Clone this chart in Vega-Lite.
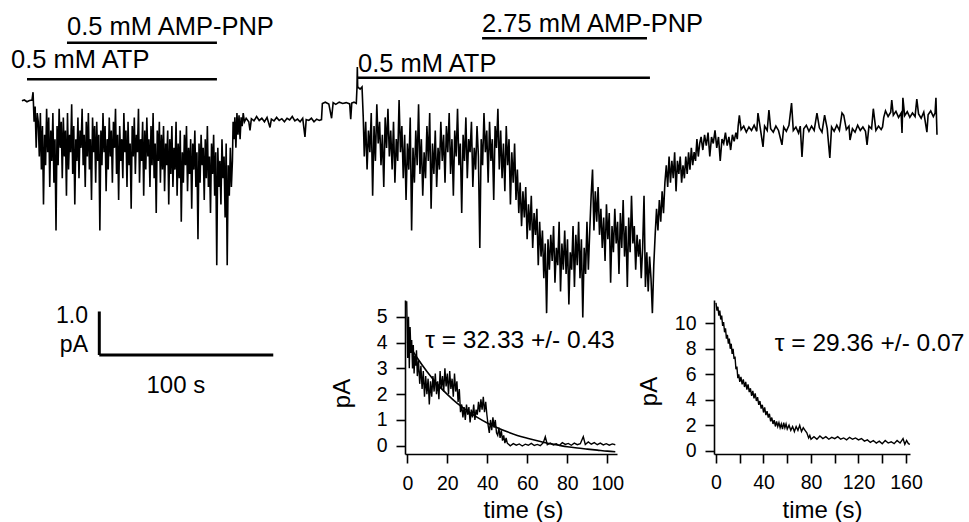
{
"$schema":"https://vega.github.io/schema/vega-lite/v6.json",
"padding":0,
"background":"white",
"bounds":"flush",
"spacing":0,
"config":{"view":{"stroke":null},"font":"Liberation Sans",
"axis":{"domainColor":"black","domainWidth":1.6,"tickColor":"black","tickWidth":1.6,"tickSize":9,"labelFontSize":19.5,"labelColor":"black","titleFontSize":24,"titleFontWeight":"normal","titleColor":"black","grid":false,"labelFlush":false,"labelOverlap":false},
"axisX":{"labelPadding":11,"titleBaseline":"alphabetic"},
"axisY":{"labelPadding":9}},
"datasets":{
"trace":[
{"t":0.6,"v":-0.02},{"t":2,"v":0},{"t":3.5,"v":-0.04},{"t":5,"v":-0.01},{"t":6.4,"v":0},{"t":7,"v":0.18},{"t":7.6,"v":-0.5},{"t":8.2,"v":-0.15},{"t":8.8,"v":-1.1},{"t":9.4,"v":-0.3},
{"t":10,"v":-0.5},{"t":10.6,"v":-1.3},{"t":11.2,"v":-0.3},{"t":11.8,"v":-1.6},{"t":12.4,"v":-0.6},{"t":13,"v":-2.4},{"t":13.6,"v":-0.8},{"t":14.2,"v":-1.5},{"t":14.8,"v":-0.2},{"t":15.4,"v":-1.2},{"t":16,"v":-0.4},{"t":16.6,"v":-2.0},{"t":17.2,"v":-0.7},{"t":17.8,"v":-1.4},{"t":18.4,"v":-0.3},{"t":19,"v":-1.9},{"t":19.6,"v":-0.9},{"t":20.2,"v":-3.0},{"t":20.8,"v":-0.6},{"t":21.4,"v":-1.5},{"t":22,"v":-0.2},{"t":22.6,"v":-1.1},{"t":23.2,"v":-0.5},{"t":23.8,"v":-1.8},{"t":24.4,"v":-0.4},{"t":25,"v":-1.3},{"t":25.6,"v":-0.7},{"t":26.2,"v":-2.2},{"t":26.8,"v":-0.3},{"t":27.4,"v":-1.6},{"t":28,"v":-0.8},{"t":28.6,"v":-1.2},{"t":29.2,"v":-0.1},{"t":29.8,"v":-1.7},{"t":30.4,"v":-0.6},{"t":31,"v":-2.4},{"t":31.6,"v":-0.9},{"t":32.2,"v":-1.4},{"t":32.8,"v":-0.4},{"t":33.4,"v":-1.8},{"t":34,"v":-0.7},{"t":34.6,"v":-1.1},{"t":35.2,"v":-0.2},{"t":35.8,"v":-1.5},{"t":36.4,"v":-0.8},{"t":37,"v":-2.0},{"t":37.6,"v":-0.5},{"t":38.2,"v":-1.3},{"t":38.8,"v":-0.3},{"t":39.4,"v":-1.6},{"t":40,"v":-0.9},{"t":40.6,"v":-2.3},{"t":41.2,"v":-0.4},{"t":41.8,"v":-1.2},{"t":42.4,"v":-0.6},{"t":43,"v":-1.9},{"t":43.6,"v":-0.5},{"t":44.2,"v":-1.4},{"t":44.8,"v":-0.8},{"t":45.4,"v":-3.0},{"t":46,"v":-0.7},{"t":46.6,"v":-1.5},{"t":47.2,"v":-0.3},{"t":47.8,"v":-1.2},{"t":48.4,"v":-0.6},{"t":49,"v":-2.1},{"t":49.6,"v":-0.9},{"t":50.2,"v":-1.6},{"t":50.8,"v":-0.4},{"t":51.4,"v":-1.3},{"t":52,"v":-0.7},{"t":52.6,"v":-1.9},{"t":53.2,"v":-0.5},{"t":53.8,"v":-1.1},{"t":54.4,"v":-0.2},{"t":55,"v":-1.7},{"t":55.6,"v":-0.8},{"t":56.2,"v":-2.3},{"t":56.8,"v":-0.6},{"t":57.4,"v":-1.4},{"t":58,"v":-0.9},{"t":58.6,"v":-1.8},{"t":59.2,"v":-0.3},{"t":59.8,"v":-1.2},{"t":60.4,"v":-0.7},{"t":61,"v":-2.0},{"t":61.6,"v":-0.5},{"t":62.2,"v":-1.5},{"t":62.8,"v":-1.0},{"t":63.4,"v":-2.5},{"t":64,"v":-0.6},{"t":64.6,"v":-1.3},{"t":65.2,"v":-0.4},{"t":65.8,"v":-1.7},{"t":66.4,"v":-0.8},{"t":67,"v":-1.2},{"t":67.6,"v":-0.2},{"t":68.2,"v":-1.9},{"t":68.8,"v":-0.9},{"t":69.4,"v":-1.4},{"t":70,"v":-0.5},{"t":70.6,"v":-2.2},{"t":71.2,"v":-0.7},{"t":71.8,"v":-1.6},{"t":72.4,"v":-0.4},{"t":73,"v":-1.3},{"t":73.6,"v":-0.9},{"t":74.2,"v":-2.0},{"t":74.8,"v":-0.6},{"t":75.4,"v":-1.5},{"t":76,"v":-0.3},{"t":76.6,"v":-1.8},{"t":77.2,"v":-1.0},{"t":77.8,"v":-2.6},{"t":78.4,"v":-0.7},{"t":79,"v":-1.4},{"t":79.6,"v":-0.5},{"t":80.2,"v":-1.9},{"t":80.8,"v":-0.8},{"t":81.4,"v":-1.6},{"t":82,"v":-0.6},{"t":82.6,"v":-2.1},{"t":83.2,"v":-1.0},{"t":83.8,"v":-1.5},{"t":84.4,"v":-0.7},{"t":85,"v":-2.4},{"t":85.6,"v":-0.9},{"t":86.2,"v":-1.7},{"t":86.8,"v":-0.6},{"t":87.4,"v":-2.0},{"t":88,"v":-1.1},{"t":88.6,"v":-1.6},{"t":89.2,"v":-0.5},{"t":89.8,"v":-2.2},{"t":90.4,"v":-1.0},{"t":91,"v":-1.8},{"t":91.6,"v":-0.7},{"t":92.2,"v":-2.8},{"t":92.8,"v":-1.2},{"t":93.4,"v":-1.9},{"t":94,"v":-0.8},{"t":94.6,"v":-1.5},{"t":95.2,"v":-0.6},{"t":95.8,"v":-2.1},{"t":96.4,"v":-1.1},{"t":97,"v":-1.7},{"t":97.6,"v":-0.9},{"t":98.2,"v":-2.5},{"t":98.8,"v":-1.0},{"t":99.4,"v":-1.6},{"t":100,"v":-0.7},{"t":100.6,"v":-2.0},{"t":101.2,"v":-1.2},{"t":101.8,"v":-3.2},{"t":102.4,"v":-1.0},{"t":103,"v":-1.9},{"t":103.6,"v":-0.8},{"t":104.2,"v":-1.5},{"t":104.8,"v":-1.1},{"t":105.4,"v":-2.3},{"t":106,"v":-0.9},{"t":106.6,"v":-1.8},{"t":107.2,"v":-0.6},{"t":107.8,"v":-2.0},{"t":108.4,"v":-1.3},{"t":109,"v":-2.6},{"t":109.6,"v":-1.0},{"t":110.2,"v":-1.7},{"t":110.8,"v":-0.8},{"t":111.4,"v":-2.2},{"t":112,"v":-1.2},{"t":112.6,"v":-3.8},{"t":113.2,"v":-1.1},{"t":113.8,"v":-2.0},{"t":114.4,"v":-1.4},{"t":115,"v":-2.4},{"t":115.6,"v":-0.9},{"t":116.2,"v":-1.8},{"t":116.8,"v":-1.3},{"t":117.4,"v":-2.7},{"t":118,"v":-1.0},{"t":118.6,"v":-3.8},{"t":119.2,"v":-1.5},{"t":119.8,"v":-2.2},{"t":120.4,"v":-1.1},{"t":121,"v":-2.0},{"t":121.6,"v":-1.4},
{"t":122,"v":-0.5},{"t":122.5,"v":-0.9},{"t":123,"v":-0.4},{"t":123.6,"v":-1.1},{"t":124.2,"v":-0.3},{"t":124.8,"v":-0.8},{"t":125.4,"v":-0.35},{"t":126,"v":-0.9},{"t":126.6,"v":-0.4},{"t":127.2,"v":-0.6},{"t":127.8,"v":-0.3},{"t":128.5,"v":-0.5},
{"t":129.5,"v":-0.42},{"t":131,"v":-0.5},{"t":131.7,"v":-0.7},{"t":132.5,"v":-0.43},{"t":134,"v":-0.48},{"t":135.5,"v":-0.38},{"t":137,"v":-0.47},{"t":138.5,"v":-0.42},{"t":140,"v":-0.5},{"t":141.5,"v":-0.4},{"t":143.2,"v":-0.63},{"t":144,"v":-0.44},{"t":145.5,"v":-0.48},{"t":147,"v":-0.4},{"t":148.5,"v":-0.47},{"t":150,"v":-0.43},{"t":151.5,"v":-0.5},{"t":153,"v":-0.42},{"t":154.5,"v":-0.46},{"t":156,"v":-0.38},{"t":157.5,"v":-0.48},{"t":159,"v":-0.44},{"t":160.5,"v":-0.5},{"t":162,"v":-0.42},{"t":163.3,"v":-0.85},{"t":164,"v":-0.45},{"t":165.5,"v":-0.47},{"t":167,"v":-0.42},{"t":168.5,"v":-0.5},{"t":170,"v":-0.44},{"t":171.5,"v":-0.47},{"t":172.8,"v":-0.45},{"t":173.3,"v":-0.08},{"t":175,"v":-0.05},{"t":177,"v":-0.09},{"t":178.6,"v":-0.42},{"t":179.5,"v":-0.06},{"t":181,"v":-0.1},{"t":183,"v":-0.05},{"t":185,"v":-0.08},{"t":187,"v":-0.06},{"t":189,"v":-0.09},{"t":189.6,"v":-0.44},{"t":190.2,"v":-0.07},{"t":191.5,"v":-0.05},{"t":192.8,"v":-0.08},{"t":193.2,"v":0.28},{"t":193.4,"v":0.76},{"t":193.6,"v":0.3},{"t":195,"v":0.25},{"t":196.1,"v":0.3},
{"t":196.8,"v":-0.4},{"t":197.4,"v":-1.3},{"t":198.2,"v":-0.5},{"t":199,"v":-1.6},{"t":199.8,"v":-0.7},{"t":200.6,"v":-1.2},{"t":201.4,"v":-0.3},{"t":202.2,"v":-2.2},{"t":203,"v":-0.6},{"t":203.8,"v":-1.4},{"t":204.6,"v":-0.1},{"t":205.4,"v":-1.0},{"t":206.2,"v":-0.5},{"t":207,"v":-1.5},{"t":207.8,"v":-0.8},{"t":208.6,"v":-2.0},{"t":209.4,"v":-0.4},{"t":210.2,"v":-1.1},{"t":211,"v":-0.2},{"t":211.8,"v":-1.3},{"t":212.6,"v":-0.7},{"t":213.4,"v":-1.6},{"t":214.2,"v":-0.5},{"t":215,"v":-1.9},{"t":215.8,"v":-0.9},{"t":216.6,"v":-1.4},{"t":217.4,"v":0.0},
{"t":218.2,"v":-1.2},{"t":219,"v":-0.6},{"t":219.8,"v":-1.8},{"t":220.6,"v":-0.8},{"t":221.4,"v":-2.3},{"t":222.2,"v":-1.0},{"t":223,"v":-1.6},{"t":223.8,"v":-0.4},{"t":224.6,"v":-3.0},{"t":225.4,"v":-1.1},{"t":226.2,"v":-1.9},{"t":227,"v":-0.7},{"t":227.8,"v":-1.5},{"t":228.6,"v":-0.1},{"t":229.4,"v":-1.7},{"t":230.2,"v":-0.9},{"t":231,"v":-2.2},{"t":231.8,"v":-1.2},{"t":232.6,"v":-1.8},{"t":233.4,"v":-0.6},{"t":234.2,"v":-1.4},{"t":235,"v":-0.3},{"t":235.8,"v":-2.5},{"t":236.6,"v":-1.0},{"t":237.4,"v":-1.7},{"t":238.2,"v":-0.7},{"t":239,"v":-2.0},{"t":239.8,"v":-1.1},{"t":240.6,"v":-1.6},
{"t":241.4,"v":-0.5},{"t":242.2,"v":-1.4},{"t":243,"v":-0.8},{"t":243.8,"v":-1.9},{"t":244.6,"v":-0.6},{"t":245.4,"v":-1.2},{"t":246.2,"v":-0.3},{"t":247,"v":-1.7},{"t":247.8,"v":-0.9},{"t":248.6,"v":-2.2},{"t":249.4,"v":-0.7},{"t":250.2,"v":-1.3},{"t":251,"v":-0.2},{"t":251.8,"v":-1.5},{"t":252.6,"v":-1.0},{"t":253.4,"v":-2.6},{"t":254.2,"v":-0.8},{"t":255,"v":-1.4},{"t":255.8,"v":-0.4},{"t":256.6,"v":-1.8},{"t":257.4,"v":-0.9},{"t":258.2,"v":-1.2},{"t":259,"v":-0.5},{"t":259.8,"v":-2.0},{"t":260.6,"v":-1.1},{"t":261.4,"v":-1.6},{"t":262.2,"v":-0.6},{"t":263,"v":-1.3},{"t":263.8,"v":-3.4},{"t":264.6,"v":-0.9},{"t":265.4,"v":-1.5},{"t":266.2,"v":-0.3},{"t":267,"v":-1.2},{"t":267.8,"v":-0.7},{"t":268.6,"v":-1.9},{"t":269.4,"v":-0.5},{"t":270.2,"v":-1.4},{"t":271,"v":-0.9},{"t":271.8,"v":-2.3},{"t":272.6,"v":-0.6},{"t":273.4,"v":-1.1},{"t":274.2,"v":-0.2},{"t":275,"v":-1.6},
{"t":275.8,"v":-0.7},{"t":276.6,"v":-1.8},{"t":277.4,"v":-1.0},{"t":278.2,"v":-2.1},{"t":279,"v":-0.6},{"t":279.8,"v":-1.5},{"t":280.6,"v":-0.9},{"t":281.4,"v":-2.4},{"t":282.2,"v":-1.2},{"t":283,"v":-1.9},{"t":283.8,"v":-1.0},
{"t":284.6,"v":-2.3},{"t":285.4,"v":-1.6},{"t":286.2,"v":-2.6},{"t":287,"v":-1.9},{"t":287.8,"v":-2.9},{"t":288.6,"v":-2.1},{"t":289.4,"v":-2.7},{"t":290.2,"v":-2.0},{"t":291,"v":-3.2},{"t":291.8,"v":-2.4},{"t":292.6,"v":-3.0},{"t":293.4,"v":-2.2},{"t":294.2,"v":-3.4},{"t":295,"v":-2.6},{"t":295.8,"v":-3.1},{"t":296.6,"v":-2.5},{"t":297.4,"v":-3.8},{"t":298.2,"v":-2.8},
{"t":299,"v":-3.6},{"t":299.8,"v":-3.0},{"t":300.6,"v":-4.1},{"t":301.4,"v":-3.3},{"t":302.2,"v":-4.9},{"t":303,"v":-3.2},{"t":303.8,"v":-3.9},{"t":304.6,"v":-3.1},{"t":305.4,"v":-3.7},{"t":306.2,"v":-2.9},{"t":307,"v":-4.2},{"t":307.8,"v":-3.4},{"t":308.6,"v":-3.8},{"t":309.4,"v":-2.8},{"t":310.2,"v":-4.4},{"t":311,"v":-3.3},{"t":311.8,"v":-3.9},{"t":312.6,"v":-3.0},{"t":313.4,"v":-4.0},{"t":314.2,"v":-3.2},{"t":315,"v":-4.7},{"t":315.8,"v":-3.5},{"t":316.6,"v":-3.9},{"t":317.4,"v":-2.9},{"t":318.2,"v":-4.3},{"t":319,"v":-3.1},{"t":319.8,"v":-3.8},{"t":320.6,"v":-2.8},{"t":321.4,"v":-4.1},{"t":322.2,"v":-3.2},{"t":323,"v":-5.0},{"t":323.8,"v":-3.4},{"t":324.6,"v":-4.0},{"t":325.4,"v":-2.8},{"t":326.2,"v":-3.9},{"t":327,"v":-3.0},
{"t":327.8,"v":-2.2},{"t":328.6,"v":-1.6},{"t":329.4,"v":-3.0},{"t":330.2,"v":-2.1},{"t":331,"v":-2.8},{"t":331.8,"v":-2.0},{"t":332.6,"v":-3.1},
{"t":333.4,"v":-2.5},{"t":334.2,"v":-3.4},{"t":335,"v":-2.7},{"t":335.8,"v":-3.7},{"t":336.6,"v":-2.4},{"t":337.4,"v":-3.2},{"t":338.2,"v":-2.6},{"t":339,"v":-4.2},{"t":339.8,"v":-2.9},{"t":340.6,"v":-3.5},{"t":341.4,"v":-2.5},{"t":342.2,"v":-3.3},{"t":343,"v":-2.8},{"t":343.8,"v":-4.0},{"t":344.6,"v":-2.6},{"t":345.4,"v":-3.4},{"t":346.2,"v":-2.3},{"t":347,"v":-3.6},{"t":347.8,"v":-2.9},{"t":348.6,"v":-4.3},{"t":349.4,"v":-2.7},{"t":350.2,"v":-3.5},{"t":351,"v":-2.2},{"t":351.8,"v":-3.3},{"t":352.6,"v":-2.9},{"t":353.4,"v":-3.9},{"t":354.2,"v":-3.1},{"t":355,"v":-3.6},
{"t":355.8,"v":-3.2},{"t":356.6,"v":-4.1},{"t":357.4,"v":-3.4},{"t":358.2,"v":-2.2},{"t":359,"v":-4.3},{"t":359.8,"v":-3.5},{"t":360.6,"v":-4.4},{"t":361.4,"v":-3.6},{"t":362.2,"v":-4.1},{"t":363,"v":-4.9},{"t":363.8,"v":-3.8},
{"t":364.6,"v":-3.1},{"t":365.4,"v":-2.5},{"t":366.2,"v":-3.0},{"t":367,"v":-2.3},{"t":367.8,"v":-2.8},{"t":368.6,"v":-2.1},{"t":369.4,"v":-2.6},{"t":370.2,"v":-1.9},
{"t":371,"v":-1.5},{"t":371.8,"v":-2.0},{"t":372.6,"v":-1.3},{"t":373.4,"v":-1.9},{"t":374.2,"v":-1.4},{"t":375,"v":-1.8},{"t":375.8,"v":-1.2},{"t":376.6,"v":-2.1},{"t":377.4,"v":-1.4},{"t":378.2,"v":-1.7},{"t":379,"v":-1.3},{"t":379.8,"v":-1.9},{"t":380.6,"v":-1.5},{"t":381.4,"v":-1.8},
{"t":382.2,"v":-1.3},{"t":383,"v":-1.7},{"t":383.8,"v":-1.2},{"t":384.6,"v":-1.6},{"t":385.4,"v":-1.1},{"t":386.2,"v":-1.5},{"t":387,"v":-1.2},{"t":387.8,"v":-1.4},{"t":388.6,"v":-0.9},{"t":389.4,"v":-1.3},{"t":390.2,"v":-1.0},
{"t":391,"v":-0.85},{"t":392,"v":-1.15},{"t":393,"v":-0.8},{"t":394,"v":-1.05},{"t":395,"v":-0.75},{"t":396,"v":-1.3},{"t":397,"v":-0.85},{"t":398,"v":-1.0},{"t":399,"v":-0.7},{"t":400,"v":-1.1},{"t":401,"v":-0.85},{"t":402,"v":-1.4},{"t":403,"v":-0.9},{"t":404,"v":-1.0},{"t":405,"v":-0.75},{"t":406,"v":-1.05},{"t":407,"v":-0.85},{"t":408,"v":-1.15},{"t":409,"v":-0.8},{"t":410,"v":-0.95},{"t":411,"v":-0.75},{"t":411.8,"v":-0.9},{"t":412.3,"v":-0.6},
{"t":413,"v":-0.35},{"t":414,"v":-0.68},{"t":415.5,"v":-0.6},{"t":417,"v":-0.74},{"t":418.5,"v":-0.62},{"t":420,"v":-0.7},{"t":421.5,"v":-0.58},{"t":423,"v":-0.72},{"t":423.7,"v":-0.3},{"t":425,"v":-0.64},{"t":426.6,"v":-1.08},{"t":427.5,"v":-0.6},{"t":429,"v":-0.7},{"t":430,"v":-0.23},{"t":431,"v":-0.66},{"t":432.5,"v":-0.74},{"t":434,"v":-0.6},{"t":435.5,"v":-0.7},{"t":437.5,"v":-1.03},{"t":438.5,"v":-0.62},{"t":440,"v":-0.72},{"t":441.5,"v":-0.58},{"t":443,"v":-0.07},{"t":444,"v":-0.7},{"t":445.5,"v":-0.62},{"t":447,"v":-0.76},{"t":448,"v":-0.6},{"t":449,"v":-1.31},{"t":450,"v":-0.66},{"t":451.5,"v":-0.58},{"t":453,"v":-0.72},{"t":454.5,"v":-0.6},{"t":456,"v":-0.7},{"t":457.6,"v":-0.3},{"t":459,"v":-0.64},{"t":460.5,"v":-0.74},{"t":462,"v":-0.35},{"t":463.5,"v":-0.66},{"t":465,"v":-1.33},{"t":466,"v":-0.62},{"t":467.5,"v":-0.72},{"t":469,"v":-0.58},{"t":470.5,"v":-0.7},{"t":472,"v":-0.3},{"t":473,"v":-0.35},{"t":474.5,"v":-0.68},{"t":476,"v":-0.6},{"t":476.6,"v":-0.92},{"t":478,"v":-0.66},{"t":479.5,"v":-0.74},{"t":481,"v":-0.58},{"t":482.5,"v":-0.7},{"t":484,"v":-0.62},{"t":485.5,"v":-0.72},{"t":486.4,"v":-1.03},{"t":487.5,"v":-0.6},{"t":489,"v":-0.66},{"t":490,"v":-0.2},{"t":491.5,"v":-0.7},{"t":493,"v":-0.6},{"t":494.5,"v":-0.68},{"t":495.3,"v":-0.62},
{"t":496,"v":-0.4},{"t":497,"v":-0.25},{"t":498.5,"v":-0.38},{"t":500,"v":-0.28},{"t":500.6,"v":0.0},{"t":501.5,"v":-0.35},{"t":503,"v":-0.26},{"t":504.5,"v":-0.4},{"t":506,"v":-0.3},{"t":506.5,"v":-0.76},{"t":507,"v":0.05},{"t":508,"v":-0.36},{"t":509.5,"v":-0.27},{"t":511,"v":-0.4},{"t":512.5,"v":-0.3},{"t":514,"v":-0.38},{"t":515,"v":0.02},{"t":516,"v":-0.32},{"t":517.5,"v":-0.42},{"t":519,"v":-0.28},{"t":520.8,"v":-0.74},{"t":521.5,"v":-0.34},{"t":523,"v":-0.25},{"t":524.5,"v":-0.38},{"t":525.5,"v":-0.3},{"t":526,"v":0.05},{"t":526.6,"v":-0.8}
],
"bars":[
{"t":3.52,"t2":112.7,"v":0.476,"v2":0.476},
{"t":26.5,"t2":112.7,"v":1.317,"v2":1.317},
{"t":193.8,"t2":361.6,"v":0.513,"v2":0.513},
{"t":265.1,"t2":359.9,"v":1.418,"v2":1.418}
],
"scalebar":[
{"t":45.08,"t2":145.08,"v":-5.862,"v2":-5.862},
{"t":45.08,"t2":45.08,"v":-5.862,"v2":-4.862}
],
"labels":[
{"t":26.5,"v":1.494,"label":"0.5 mM AMP-PNP"},
{"t":-5.68,"v":0.736,"label":"0.5 mM ATP"},
{"t":193.8,"v":0.644,"label":"0.5 mM ATP"},
{"t":265.1,"v":1.563,"label":"2.75 mM AMP-PNP"}
],
"scalelabels":[
{"t":38.58,"v":-5.126,"label":"1.0"},
{"t":38.58,"v":-5.793,"label":"pA"}
],
"timelabel":[{"t":89.1,"v":-6.729,"label":"100 s"}],
"inset1":[
{"t":-0.3,"pA":5.6},{"t":0.2,"pA":3.4},{"t":0.6,"pA":5.0},{"t":1.0,"pA":3.0},{"t":1.4,"pA":4.6},{"t":1.8,"pA":3.6},{"t":2.2,"pA":4.1},{"t":2.6,"pA":3.0},{"t":3.0,"pA":3.9},{"t":3.4,"pA":2.8},{"t":3.8,"pA":3.5},{"t":4.2,"pA":3.1},{"t":4.6,"pA":3.7},{"t":5.0,"pA":2.7},{"t":5.6,"pA":3.3},{"t":6.2,"pA":2.4},{"t":6.8,"pA":3.1},{"t":7.4,"pA":2.2},{"t":8.0,"pA":2.9},{"t":8.6,"pA":1.9},{"t":9.2,"pA":2.7},{"t":9.8,"pA":2.0},{"t":10.4,"pA":2.6},{"t":11.0,"pA":1.6},{"t":11.6,"pA":2.5},{"t":12.2,"pA":1.9},{"t":12.8,"pA":2.7},{"t":13.4,"pA":2.1},{"t":14.0,"pA":2.8},{"t":14.6,"pA":2.0},{"t":15.2,"pA":2.5},{"t":15.8,"pA":1.8},{"t":16.4,"pA":2.9},{"t":17.0,"pA":2.2},{"t":17.6,"pA":2.7},{"t":18.2,"pA":2.1},{"t":18.8,"pA":3.0},{"t":19.4,"pA":2.3},{"t":20.0,"pA":2.8},{"t":20.6,"pA":2.0},{"t":21.2,"pA":2.9},{"t":21.8,"pA":2.2},{"t":22.4,"pA":2.6},{"t":23.0,"pA":1.9},{"t":23.6,"pA":2.8},{"t":24.2,"pA":2.1},{"t":24.8,"pA":2.5},{"t":25.4,"pA":1.7},{"t":26.0,"pA":2.2},{"t":26.6,"pA":1.3},{"t":27.2,"pA":1.6},{"t":27.8,"pA":1.1},{"t":28.4,"pA":1.5},{"t":29.0,"pA":1.0},{"t":29.6,"pA":1.6},{"t":30.2,"pA":1.2},{"t":30.8,"pA":1.5},{"t":31.4,"pA":0.9},{"t":32.0,"pA":1.4},{"t":32.6,"pA":1.1},{"t":33.2,"pA":1.6},{"t":33.8,"pA":1.0},{"t":34.4,"pA":1.4},{"t":35.0,"pA":1.2},{"t":35.6,"pA":1.7},{"t":36.2,"pA":1.3},{"t":36.8,"pA":1.8},{"t":37.4,"pA":1.4},{"t":38.0,"pA":1.9},{"t":38.6,"pA":1.3},{"t":39.2,"pA":1.7},{"t":39.8,"pA":1.2},{"t":40.4,"pA":0.8},{"t":41.0,"pA":0.5},{"t":41.6,"pA":1.0},{"t":42.2,"pA":0.6},{"t":42.8,"pA":1.1},{"t":43.4,"pA":0.7},{"t":44.0,"pA":1.0},{"t":44.6,"pA":0.5},{"t":45.2,"pA":0.4},{"t":45.8,"pA":0.7},{"t":46.4,"pA":0.3},{"t":47.0,"pA":0.6},{"t":47.6,"pA":0.2},{"t":48.2,"pA":0.4},{"t":48.8,"pA":0.1},{"t":49.4,"pA":0.3},{"t":50.0,"pA":0.1},
{"t":51.5,"pA":0.0},{"t":53,"pA":0.08},{"t":54.5,"pA":0.02},{"t":56,"pA":0.07},{"t":57.5,"pA":-0.01},{"t":59,"pA":0.06},{"t":60.5,"pA":0.02},{"t":62,"pA":0.09},{"t":63.5,"pA":0.01},{"t":65,"pA":0.05},{"t":66.5,"pA":0.0},{"t":68,"pA":0.12},{"t":69,"pA":0.35},{"t":70,"pA":0.04},{"t":71.5,"pA":0.1},{"t":73,"pA":0.03},{"t":74.5,"pA":0.08},{"t":76,"pA":0.01},{"t":77.5,"pA":0.12},{"t":79,"pA":0.05},{"t":80.5,"pA":0.09},{"t":82,"pA":0.02},{"t":83.5,"pA":0.1},{"t":85,"pA":0.04},{"t":86.5,"pA":0.08},{"t":88,"pA":0.35},{"t":89,"pA":0.05},{"t":90.5,"pA":0.15},{"t":92,"pA":0.06},{"t":93.5,"pA":0.12},{"t":95,"pA":0.04},{"t":96.5,"pA":0.1},{"t":98,"pA":0.03},{"t":99.5,"pA":0.08},{"t":101,"pA":0.02},{"t":102.5,"pA":0.07},{"t":104,"pA":0.04}
],
"fit1":[
{"t":0,"pA":4.04},{"t":5,"pA":3.40},{"t":10,"pA":2.86},{"t":15,"pA":2.39},{"t":20,"pA":1.99},{"t":25,"pA":1.64},{"t":30,"pA":1.35},{"t":35,"pA":1.10},{"t":40,"pA":0.88},{"t":45,"pA":0.70},{"t":50,"pA":0.54},{"t":55,"pA":0.40},{"t":60,"pA":0.29},{"t":65,"pA":0.19},{"t":70,"pA":0.10},{"t":75,"pA":0.03},{"t":80,"pA":-0.04},{"t":85,"pA":-0.09},{"t":90,"pA":-0.13},{"t":95,"pA":-0.17},{"t":100,"pA":-0.21},{"t":104,"pA":-0.23}
],
"inset2":[
{"t":0,"pA":11.6},{"t":0.8,"pA":11.0},{"t":1.6,"pA":11.3},{"t":2.4,"pA":10.6},{"t":3.2,"pA":11.0},{"t":4,"pA":10.3},{"t":4.8,"pA":10.6},{"t":5.6,"pA":9.8},{"t":6.4,"pA":10.1},{"t":7.2,"pA":9.3},{"t":8,"pA":9.6},{"t":8.8,"pA":8.8},{"t":9.6,"pA":9.1},{"t":10.4,"pA":8.4},{"t":11.2,"pA":8.8},{"t":12,"pA":8.0},{"t":12.8,"pA":8.4},{"t":13.6,"pA":7.6},{"t":14.4,"pA":8.0},{"t":15.2,"pA":7.2},{"t":16,"pA":7.4},{"t":16.8,"pA":6.4},{"t":17.6,"pA":6.6},{"t":18.4,"pA":5.7},{"t":19.2,"pA":6.0},{"t":20,"pA":5.4},{"t":21,"pA":5.8},{"t":22,"pA":5.2},{"t":23,"pA":5.6},{"t":24,"pA":5.0},{"t":25,"pA":5.4},{"t":26,"pA":4.8},{"t":27,"pA":5.2},{"t":28,"pA":4.6},{"t":29,"pA":4.9},{"t":30,"pA":4.3},{"t":31,"pA":4.7},{"t":32,"pA":4.1},{"t":33,"pA":4.5},{"t":34,"pA":3.9},{"t":35,"pA":4.2},{"t":36,"pA":3.6},{"t":37,"pA":3.9},{"t":38,"pA":3.3},{"t":39,"pA":3.6},{"t":40,"pA":3.0},{"t":41,"pA":3.4},{"t":42,"pA":2.8},{"t":43,"pA":3.1},{"t":44,"pA":2.6},{"t":45,"pA":2.9},{"t":46,"pA":2.3},{"t":47,"pA":2.6},{"t":48,"pA":2.1},{"t":49,"pA":2.4},{"t":50,"pA":1.9},{"t":51,"pA":2.3},{"t":52,"pA":1.9},{"t":53,"pA":2.2},{"t":54,"pA":1.8},{"t":55,"pA":2.1},{"t":56,"pA":1.7},{"t":57,"pA":2.2},{"t":58,"pA":1.8},{"t":59,"pA":2.1},{"t":60,"pA":1.7},{"t":61.5,"pA":2.0},{"t":63,"pA":1.6},{"t":64.5,"pA":1.9},{"t":66,"pA":1.5},{"t":67.5,"pA":1.9},{"t":69,"pA":1.6},{"t":70.5,"pA":2.0},{"t":72,"pA":1.5},{"t":73.5,"pA":1.8},{"t":75,"pA":1.6},{"t":76.5,"pA":1.4},{"t":78,"pA":1.0},{"t":79,"pA":1.2},{"t":80,"pA":0.9},
{"t":82.5,"pA":1.1},{"t":85,"pA":0.9},{"t":87.5,"pA":1.15},{"t":90,"pA":0.95},{"t":92.5,"pA":1.1},{"t":95,"pA":0.9},{"t":97.5,"pA":1.05},{"t":100,"pA":0.95},{"t":102.5,"pA":1.1},{"t":105,"pA":0.9},{"t":107.5,"pA":1.0},{"t":110,"pA":0.85},{"t":112.5,"pA":1.05},{"t":115,"pA":0.9},{"t":117.5,"pA":1.0},{"t":120,"pA":0.85},{"t":122.5,"pA":0.95},{"t":125,"pA":0.75},{"t":127.5,"pA":0.85},{"t":130,"pA":0.65},{"t":132.5,"pA":0.8},{"t":135,"pA":0.6},{"t":137.5,"pA":0.75},{"t":140,"pA":0.55},{"t":142.5,"pA":0.8},{"t":145,"pA":0.6},{"t":147.5,"pA":0.7},{"t":150,"pA":0.55},{"t":152.5,"pA":0.8},{"t":155,"pA":0.6},{"t":157.5,"pA":0.95},{"t":159,"pA":0.5},{"t":160.5,"pA":0.8},{"t":162,"pA":0.55},{"t":163.3,"pA":0.5}
],
"tau1":[{"t":56.35,"pA":3.775,"label":"τ = 32.33 +/- 0.43"}],
"tau2":[{"t":129.3,"pA":7.83,"label":"τ = 29.36 +/- 0.07"}]
},
"vconcat":[
{
"width":969,"height":300,
"encoding":{
"x":{"field":"t","type":"quantitative","scale":{"domain":[-12,545],"nice":false,"zero":false},"axis":null},
"y":{"field":"v","type":"quantitative","scale":{"domain":[-4.598,2.299],"nice":false,"zero":false},"axis":null}
},
"layer":[
{"data":{"name":"trace"},"mark":{"type":"line","color":"black","strokeWidth":1.6}},
{"data":{"name":"bars"},"mark":{"type":"rule","color":"black","strokeWidth":2.5},"encoding":{"x2":{"field":"t2"},"y2":{"field":"v2"}}},
{"data":{"name":"scalebar"},"mark":{"type":"rule","color":"black","strokeWidth":3},"encoding":{"x2":{"field":"t2"},"y2":{"field":"v2"}}},
{"data":{"name":"labels"},"mark":{"type":"text","align":"left","baseline":"alphabetic","fontSize":25.5,"color":"black"},"encoding":{"text":{"field":"label"}}},
{"data":{"name":"scalelabels"},"mark":{"type":"text","align":"right","baseline":"alphabetic","fontSize":23,"color":"black"},"encoding":{"text":{"field":"label"}}},
{"data":{"name":"timelabel"},"mark":{"type":"text","align":"center","baseline":"alphabetic","fontSize":24,"color":"black"},"encoding":{"text":{"field":"label"}}}
]
},
{
"bounds":"flush",
"spacing":97,
"hconcat":[
{"width":308,"height":154,"data":{"values":[]},"mark":"point"},
{
"width":212,"height":154,
"encoding":{
"x":{"field":"t","type":"quantitative","scale":{"domain":[-1.15,104.85],"nice":false,"zero":false},"axis":{"title":"time (s)","values":[0,20,40,60,80,100],"titleX":118,"titleY":63}},
"y":{"field":"pA","type":"quantitative","scale":{"domain":[-0.32,5.65],"nice":false,"zero":false},"axis":{"title":"pA","values":[0,1,2,3,4,5],"titlePadding":22,"titleY":93}}
},
"layer":[
{"data":{"name":"inset1"},"mark":{"type":"line","color":"black","strokeWidth":1.4}},
{"data":{"name":"fit1"},"mark":{"type":"line","color":"black","strokeWidth":1.6,"interpolate":"monotone"}},
{"data":{"name":"tau1"},"mark":{"type":"text","align":"center","baseline":"alphabetic","fontSize":24.5,"color":"black"},"encoding":{"text":{"field":"label"}}}
]
},
{
"width":196,"height":154,
"encoding":{
"x":{"field":"t","type":"quantitative","scale":{"domain":[-1.68,163.37],"nice":false,"zero":false},"axis":{"title":"time (s)","values":[0,20,40,60,80,100,120,140,160],"labelExpr":"datum.value % 40 === 0 ? datum.label : ''","titleX":108,"titleY":63,"labelPadding":10}},
"y":{"field":"pA","type":"quantitative","scale":{"domain":[-0.26,11.83],"nice":false,"zero":false},"axis":{"title":"pA","values":[0,2,4,6,8,10],"titlePadding":13,"titleY":91}}
},
"layer":[
{"data":{"name":"inset2"},"mark":{"type":"line","color":"black","strokeWidth":1.4}},
{"data":{"name":"tau2"},"mark":{"type":"text","align":"center","baseline":"alphabetic","fontSize":24.5,"color":"black"},"encoding":{"text":{"field":"label"}}}
]
}
]
}
]
}
